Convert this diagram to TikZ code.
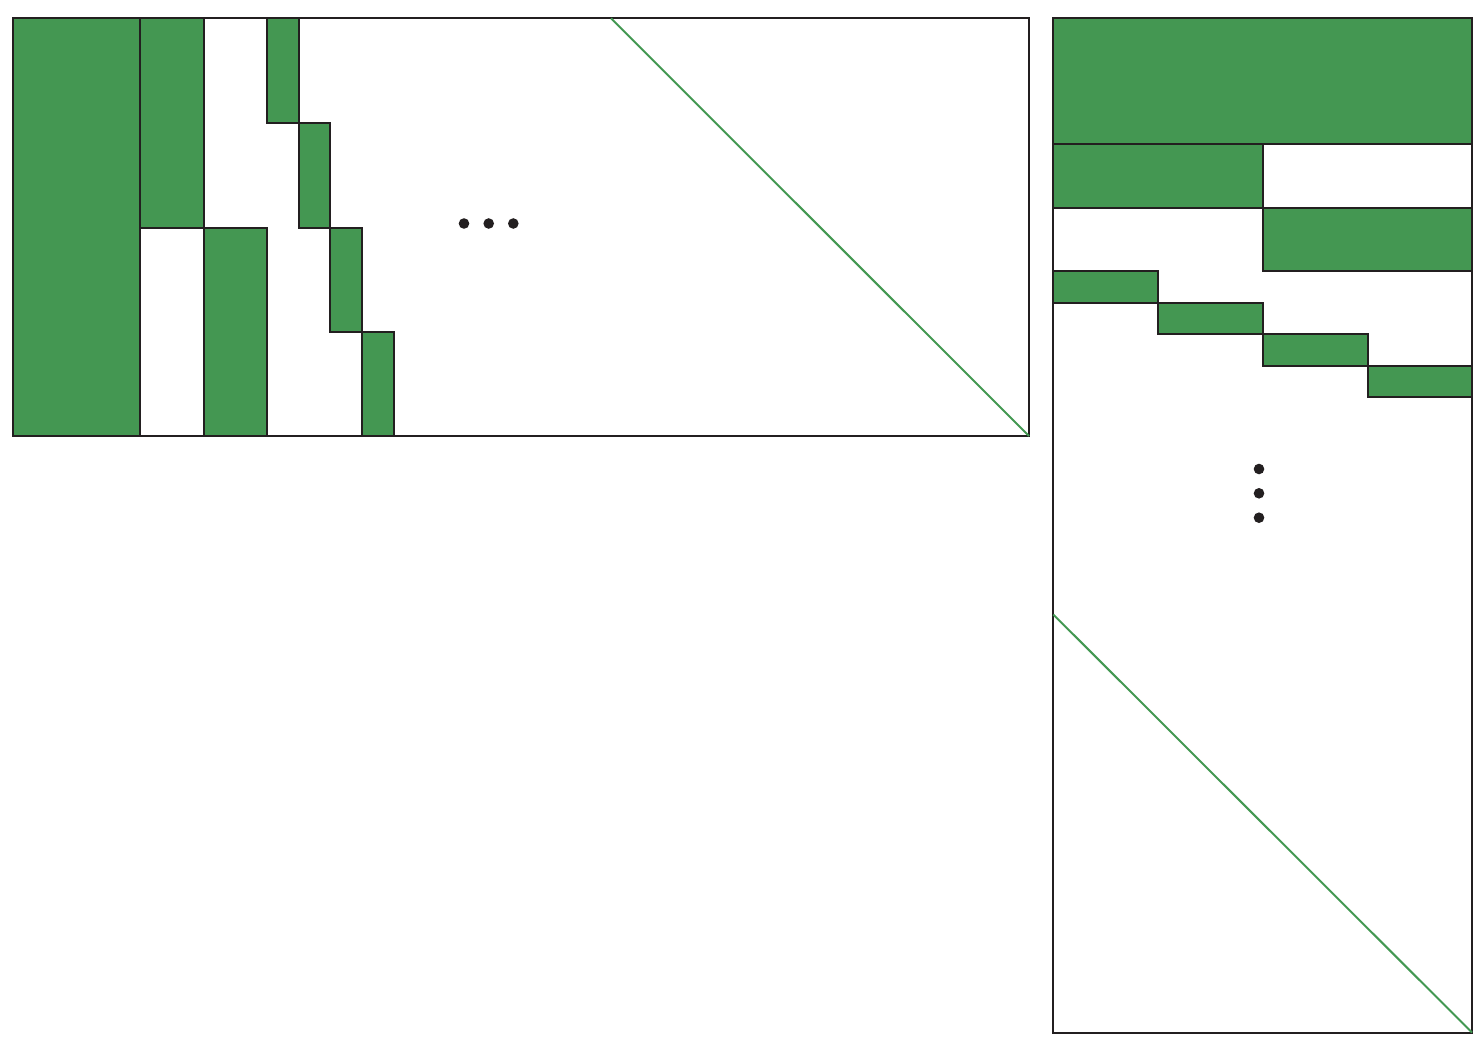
\documentclass[tikz,border=0pt]{standalone}
\usepackage{tikz}

\tikzset{every picture/.style={line width=1.5pt}}

\begin{document}
\begin{tikzpicture}[x=0.75pt,y=0.75pt,yscale=-1,xscale=1]
%set diagram left start at 0, and has size of 1482 x 1050
\useasboundingbox (0,0) rectangle (1482,1050);

%Shape: Rectangle [id:left panel]
\draw [color={rgb, 255:red, 35; green, 31; blue, 32 }] (13.3,18.3) rectangle (1029,436);
%Straight Lines [id:left diagonal]
\draw [color={rgb, 255:red, 67; green, 152; blue, 82 }] (611,18.3) -- (1029,436);
%Shape: Rectangle [id:left block 1]
\draw [color={rgb, 255:red, 35; green, 31; blue, 32 }, fill={rgb, 255:red, 68; green, 151; blue, 82 }] (13.3,18.3) rectangle (140,436);
%Shape: Rectangle [id:left block 2]
\draw [color={rgb, 255:red, 35; green, 31; blue, 32 }, fill={rgb, 255:red, 68; green, 151; blue, 82 }] (140,18.3) rectangle (203.5,227.7);
%Shape: Rectangle [id:left block 3]
\draw [color={rgb, 255:red, 35; green, 31; blue, 32 }, fill={rgb, 255:red, 68; green, 151; blue, 82 }] (203.5,227.7) rectangle (267,436);
%Shape: Rectangle [id:left block 4]
\draw [color={rgb, 255:red, 35; green, 31; blue, 32 }, fill={rgb, 255:red, 68; green, 151; blue, 82 }] (267,18.3) rectangle (298.5,122.7);
%Shape: Rectangle [id:left block 5]
\draw [color={rgb, 255:red, 35; green, 31; blue, 32 }, fill={rgb, 255:red, 68; green, 151; blue, 82 }] (298.5,122.7) rectangle (330,227.7);
%Shape: Rectangle [id:left block 6]
\draw [color={rgb, 255:red, 35; green, 31; blue, 32 }, fill={rgb, 255:red, 68; green, 151; blue, 82 }] (330,227.7) rectangle (362,332);
%Shape: Rectangle [id:left block 7]
\draw [color={rgb, 255:red, 35; green, 31; blue, 32 }, fill={rgb, 255:red, 68; green, 151; blue, 82 }] (362,332) rectangle (394,436);
%Shape: Circle [id:left dots]
\fill [color={rgb, 255:red, 35; green, 31; blue, 32 }] (464,223.5) circle (5.3) (488.7,223.5) circle (5.3) (513.3,223.5) circle (5.3);

%Shape: Rectangle [id:right panel]
\draw [color={rgb, 255:red, 35; green, 31; blue, 32 }] (1053.3,18.3) rectangle (1472,1032.5);
%Straight Lines [id:right diagonal]
\draw [color={rgb, 255:red, 67; green, 152; blue, 82 }] (1053.3,614.5) -- (1472,1032.5);
%Shape: Rectangle [id:right block 1]
\draw [color={rgb, 255:red, 35; green, 31; blue, 32 }, fill={rgb, 255:red, 68; green, 151; blue, 82 }] (1053.3,18.3) rectangle (1472,144);
%Shape: Rectangle [id:right block 2]
\draw [color={rgb, 255:red, 35; green, 31; blue, 32 }, fill={rgb, 255:red, 68; green, 151; blue, 82 }] (1053.3,144) rectangle (1262.7,207.7);
%Shape: Rectangle [id:right block 3]
\draw [color={rgb, 255:red, 35; green, 31; blue, 32 }, fill={rgb, 255:red, 68; green, 151; blue, 82 }] (1262.7,207.7) rectangle (1472,270.7);
%Shape: Rectangle [id:right block 4]
\draw [color={rgb, 255:red, 35; green, 31; blue, 32 }, fill={rgb, 255:red, 68; green, 151; blue, 82 }] (1053.3,270.7) rectangle (1158.3,302.7);
%Shape: Rectangle [id:right block 5]
\draw [color={rgb, 255:red, 35; green, 31; blue, 32 }, fill={rgb, 255:red, 68; green, 151; blue, 82 }] (1158.3,302.7) rectangle (1262.7,334);
%Shape: Rectangle [id:right block 6]
\draw [color={rgb, 255:red, 35; green, 31; blue, 32 }, fill={rgb, 255:red, 68; green, 151; blue, 82 }] (1262.7,334) rectangle (1367.7,365.7);
%Shape: Rectangle [id:right block 7]
\draw [color={rgb, 255:red, 35; green, 31; blue, 32 }, fill={rgb, 255:red, 68; green, 151; blue, 82 }] (1367.7,365.7) rectangle (1472,397.3);
%Shape: Circle [id:right dots]
\fill [color={rgb, 255:red, 35; green, 31; blue, 32 }] (1259,469) circle (5.3) (1259,493.3) circle (5.3) (1259,517.7) circle (5.3);

\end{tikzpicture}
\end{document}
